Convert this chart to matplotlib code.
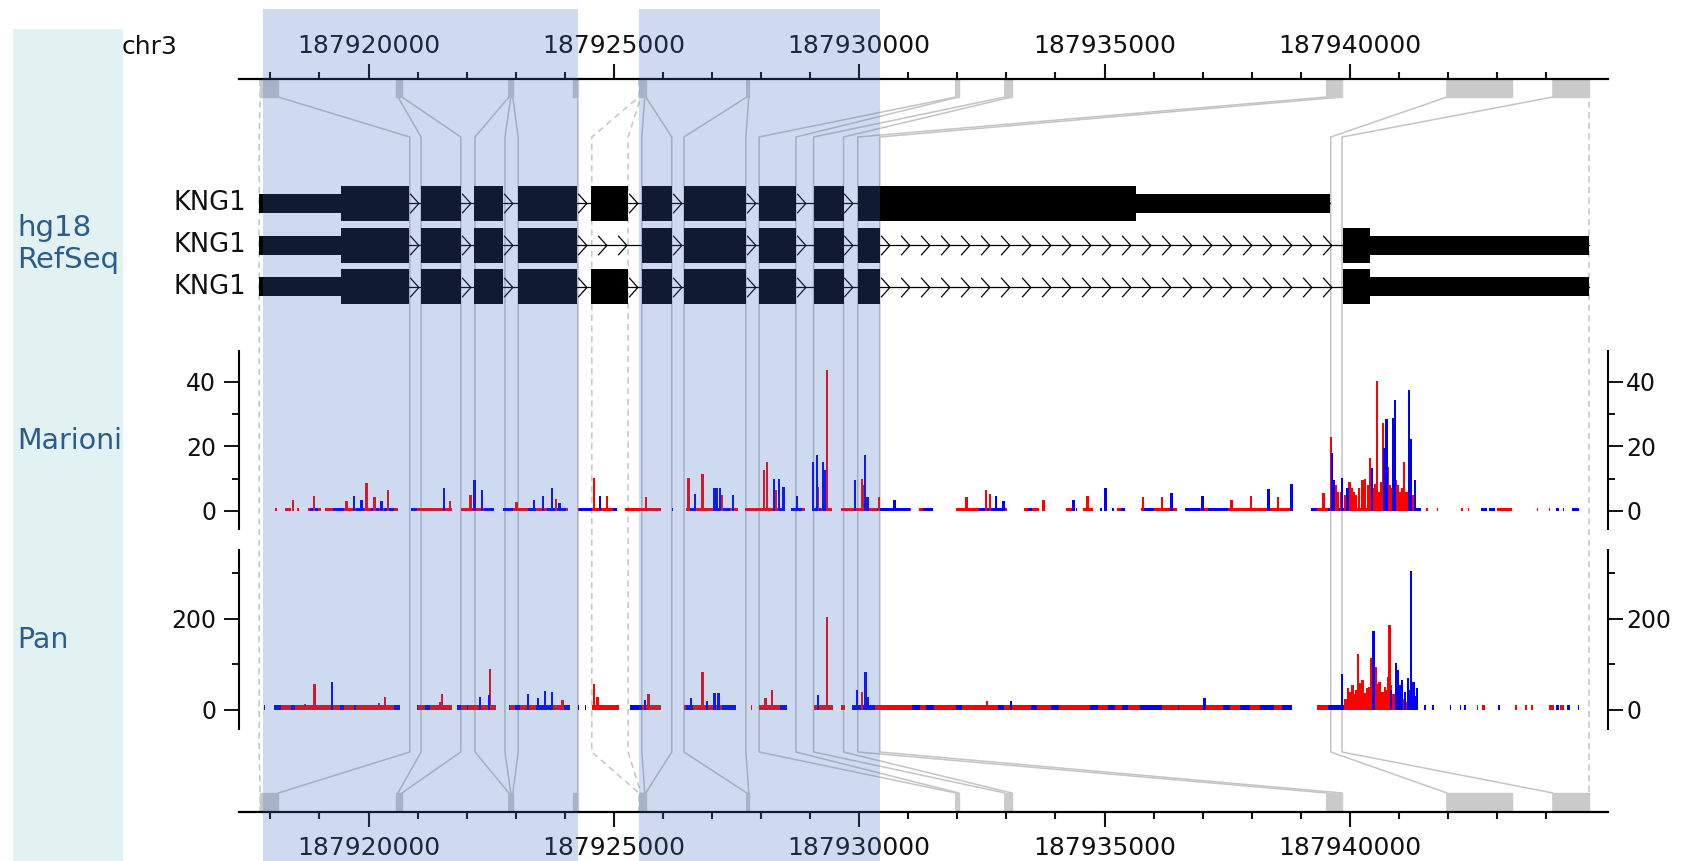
import matplotlib
matplotlib.use("Agg")
import matplotlib.pyplot as plt
import numpy as np
from matplotlib.patches import Rectangle
from matplotlib.path import Path
from matplotlib.ticker import FixedLocator, FuncFormatter

# chr3 window (hg18), bp
AXIS_START = 187917360
AXIS_END = 187945260
MAJOR_TICKS = [187920000, 187925000, 187930000, 187935000, 187940000]
MINOR_FIRST, MINOR_LAST, MINOR_STEP = 187918000, 187944000, 1000

# exons in genomic coordinates (grey blocks on the rulers)
GENOMIC_EXON_START = [187917790, 187920560, 187922860, 187924170, 187925510, 187927710,
                      187931970, 187932970, 187939530, 187941980, 187944140]
GENOMIC_EXON_END = [187918160, 187920680, 187922940, 187924270, 187925650, 187927750,
                    187932030, 187933110, 187939840, 187943300, 187944870]

# exon boundaries: genomic bp -> position in the expanded view (kb from window start)
LINK_GENOMIC = [187917790, 187918160, 187920600, 187920680, 187922860, 187922900,
                187922940, 187924270, 187925510, 187925550, 187925630, 187925650,
                187927710, 187927750, 187931970, 187932030, 187932970, 187933110,
                187939530, 187939840, 187941980, 187944140, 187944870]
LINK_VIEW = [0.41, 3.48, 3.71, 4.52, 4.81, 5.42, 5.69, 6.91, 7.19, 7.93, 8.21, 8.82,
             9.07, 10.33, 10.60, 11.35, 11.71, 12.32, 12.61, 13.06, 22.25, 22.48, 27.51]
LINK_DASHED = [True, False, False, False, False, False, False, False, True, True, False,
               False, False, False, False, False, False, False, False, False, False, False,
               True]

# KNG1 transcripts (view kb)
TRANSCRIPT_EXONS = [
    [(0.41, 3.46), (3.71, 4.52), (4.79, 5.38), (5.69, 6.89), (7.17, 7.93), (8.21, 8.82),
     (9.07, 10.33), (10.60, 11.35), (11.71, 12.32), (12.61, 22.23)],
    [(0.41, 3.46), (3.71, 4.52), (4.79, 5.38), (5.69, 6.89), (8.21, 8.82),
     (9.07, 10.33), (10.60, 11.35), (11.71, 12.32), (12.61, 13.06), (22.50, 27.51)],
    [(0.41, 3.46), (3.71, 4.52), (4.79, 5.38), (5.69, 6.89), (7.17, 7.93), (8.21, 8.82),
     (9.07, 10.33), (10.60, 11.35), (11.71, 12.32), (12.61, 13.06), (22.50, 27.51)],
]
TRANSCRIPT_CDS = [(2.08, 18.28), (2.08, 23.05), (2.08, 23.05)]
TRANSCRIPT_NAME = ["KNG1", "KNG1", "KNG1"]

# highlighted regions (view kb)
HIGHLIGHT_START = [0.49, 8.15]
HIGHLIGHT_END = [6.91, 13.06]

# Marioni track
MARIONI_RED_POS = [1.10, 1.53, 2.19, 2.60, 2.76, 3.04, 4.30, 4.72, 5.66, 6.46,
                   7.23, 7.50, 8.29, 9.16, 9.45, 9.84, 10.70, 10.76, 10.94, 11.80,
                   11.98, 12.70, 12.74, 13.04, 14.83, 15.22, 15.30, 16.40, 17.29, 18.42,
                   18.81, 20.23, 20.62, 21.17, 22.10, 22.25, 22.47, 22.68, 22.76, 22.90,
                   23.01, 23.05, 23.16, 23.19, 23.24, 23.32, 23.42, 23.49, 23.58, 23.65,
                   23.74, 23.86, 22.35, 22.40, 22.55, 22.63, 22.72, 22.82, 22.95, 23.11,
                   23.28, 23.37, 23.45, 23.53, 23.62, 23.70, 23.79, 23.92]
MARIONI_RED_VAL = [3.4, 4.6, 3.0, 8.6, 4.2, 6.5, 3.2, 5.0, 2.8, 3.6,
                   10.2, 4.6, 4.4, 10.2, 11.4, 5.0, 12.7, 15.0, 6.5, 7.5,
                   43.6, 10.0, 8.0, 4.4, 4.4, 6.5, 5.3, 3.4, 4.6, 4.4,
                   4.4, 3.5, 4.6, 4.4, 5.5, 23.0, 6.0, 7.0, 5.0, 9.6,
                   8.0, 16.4, 8.4, 40.3, 6.0, 27.3, 13.7, 7.0, 9.6, 6.0,
                   15.1, 5.0, 8.0, 6.0, 5.0, 9.0, 6.0, 7.0, 10.0, 7.0,
                   9.0, 10.0, 8.0, 6.0, 8.0, 7.0, 6.0, 5.0]
MARIONI_BLUE_POS = [2.34, 2.50, 2.90, 4.18, 4.80, 4.95, 6.01, 6.19, 6.38, 6.53,
                    7.36, 9.29, 9.69, 9.74, 9.80, 10.07, 10.90, 11.00, 11.10, 11.37,
                    11.70, 11.78, 11.90, 11.94, 12.55, 12.76, 12.81, 13.36, 15.43, 15.58,
                    17.01, 17.66, 19.00, 19.64, 20.98, 21.45, 22.27, 22.31, 22.48, 22.59,
                    23.09, 23.34, 23.39, 23.53, 23.56, 23.84, 23.89, 23.97]
MARIONI_BLUE_VAL = [4.6, 3.5, 3.0, 7.1, 9.6, 6.5, 3.4, 4.7, 7.0, 2.6,
                    4.6, 5.2, 7.0, 7.0, 7.0, 5.0, 10.0, 10.0, 7.5, 4.6,
                    15.0, 17.3, 15.0, 12.7, 9.6, 17.3, 4.4, 3.4, 4.7, 3.0,
                    3.4, 7.0, 5.4, 4.6, 6.8, 8.4, 18.0, 9.6, 10.2, 7.0,
                    13.3, 19.5, 28.5, 28.8, 34.2, 37.3, 22.3, 9.6]
# low coverage runs along the baseline
MARIONI_RED_RUN_START = [0.73, 0.93, 1.19, 1.41, 1.76, 3.50, 4.52, 5.38, 6.91, 7.87,
                         9.11, 10.31, 11.25, 11.71, 12.27, 13.55, 13.85, 14.61, 16.00, 16.85,
                         17.20, 17.90, 18.38, 19.28, 21.84, 24.20, 24.41, 24.91, 25.04, 25.63,
                         26.45, 26.69]
MARIONI_RED_RUN_END = [0.77, 1.06, 1.23, 1.67, 3.24, 4.34, 5.20, 6.70, 7.70, 8.60,
                       10.17, 11.13, 11.53, 12.09, 13.40, 13.70, 13.95, 15.65, 16.30, 17.00,
                       17.40, 18.00, 19.11, 21.46, 24.09, 24.23, 24.44, 24.94, 25.07, 25.94,
                       26.48, 26.72]
MARIONI_BLUE_RUN_START = [1.45, 1.92, 2.38, 2.70, 2.95, 3.50, 4.99, 5.38, 5.89, 6.28,
                          6.93, 7.62, 8.82, 9.15, 9.68, 11.02, 11.25, 11.71, 13.00, 13.94,
                          15.08, 16.08, 17.05, 17.55, 17.80, 17.98, 18.42, 19.28, 19.75, 21.84,
                          22.19, 23.86, 25.31, 25.47, 26.84, 26.98, 27.17]
MARIONI_BLUE_RUN_END = [1.61, 2.14, 2.55, 2.85, 3.16, 3.63, 5.20, 5.58, 6.05, 6.67,
                        7.19, 7.70, 8.84, 9.29, 10.01, 11.13, 11.47, 11.87, 13.67, 14.14,
                        15.57, 16.16, 17.08, 17.58, 17.83, 18.05, 18.65, 19.58, 20.15, 21.97,
                        22.60, 24.09, 25.43, 25.59, 26.90, 27.01, 27.30]

# Pan track
PAN_RED_POS = [1.35, 1.54, 2.40, 2.85, 2.97, 4.10, 4.14, 5.11, 6.59, 7.23,
               7.31, 8.35, 9.45, 10.73, 10.86, 11.98, 12.70, 15.24, 22.60, 22.65,
               22.73, 22.81, 22.86, 22.90, 22.99, 23.07, 23.12, 23.16, 23.21, 23.27,
               23.35, 23.42, 23.45, 23.50, 23.62, 23.70, 23.80, 23.90,
               22.55, 22.63, 22.69, 22.77, 22.84, 22.94, 23.03, 23.10, 23.14, 23.19,
               23.24, 23.30, 23.38, 23.47, 23.53, 23.56, 23.66, 23.75, 23.85]
PAN_RED_VAL = [14, 57, 12, 15, 29, 18, 35, 90, 22, 57,
               29, 35, 83, 26, 44, 205, 40, 20, 48, 30,
               35, 123, 40, 66, 48, 114, 30, 95, 57, 35,
               51, 73, 187, 25, 20, 22, 18, 15,
               25, 40, 55, 45, 60, 38, 50, 42, 70, 45,
               62, 40, 45, 55, 35, 30, 28, 25, 20]
PAN_BLUE_POS = [1.90, 4.91, 5.09, 5.89, 6.09, 6.24, 6.38, 8.27, 9.21, 9.54,
                9.69, 9.77, 11.80, 12.59, 12.77, 12.81, 15.73, 19.68, 22.48, 23.12,
                23.58, 23.62, 23.70, 23.82, 23.89, 23.94, 24.01,
                23.48, 23.60, 23.66, 23.76, 23.86, 23.98]
PAN_BLUE_VAL = [61, 29, 33, 35, 26, 42, 40, 22, 26, 20,
                38, 37, 33, 44, 83, 29, 20, 26, 79, 174,
                103, 88, 66, 70, 306, 62, 48,
                45, 60, 55, 40, 45, 30]
PAN_RED_RUN_START = [0.71, 3.63, 4.44, 5.50, 7.19, 7.97, 9.07, 10.43, 10.59, 11.71,
                     12.27, 12.49, 21.97, 25.23, 25.34, 26.01, 26.21, 26.34, 26.70, 26.92]
PAN_RED_RUN_END = [3.28, 4.34, 5.24, 6.75, 7.74, 8.60, 10.13, 10.45, 11.17, 12.10,
                   12.35, 21.46, 23.94, 25.26, 25.39, 26.04, 26.24, 26.37, 26.80, 27.00]
PAN_BLUE_RUN_START = [0.51, 0.71, 1.06, 1.87, 2.06, 2.34, 3.16, 3.63, 3.79, 4.44,
                      4.64, 5.50, 5.62, 6.05, 6.58, 6.91, 7.05, 7.21, 7.97, 9.11,
                      9.84, 11.02, 12.49, 13.71, 14.00, 14.61, 15.47, 16.14, 16.55, 17.34,
                      17.70, 18.00, 18.36, 19.13, 20.05, 20.40, 20.80, 21.25, 22.19, 22.99,
                      23.70, 24.16, 24.32, 24.67, 24.88, 24.97, 25.66, 26.84, 27.07, 27.28]
PAN_BLUE_RUN_END = [0.53, 0.86, 1.14, 1.92, 2.14, 2.43, 3.28, 3.65, 3.89, 4.52,
                    4.66, 5.52, 5.73, 6.36, 6.75, 6.93, 7.07, 7.23, 8.21, 9.25,
                    10.13, 11.17, 12.96, 13.88, 14.16, 14.73, 15.59, 16.26, 16.71, 17.50,
                    17.85, 18.11, 18.81, 19.16, 20.20, 20.60, 21.10, 21.46, 22.60, 23.10,
                    23.94, 24.19, 24.35, 24.71, 24.91, 25.01, 25.70, 26.90, 27.13, 27.31]

# ---------------------------------------------------------------- layout
W_PX, H_PX = 1707, 861
LEFT_PX, RIGHT_PX = 239, 1608
VIEW_SPAN = (AXIS_END - AXIS_START) / 1000.0
TEXT = "#111111"
LABEL_BLUE = "#2b5c8a"
LINK_GREY = "#c4c4c4"


def fx(px):
    return px / W_PX


def fy(px):
    return 1 - px / H_PX


def to_view(bp):
    return (np.asarray(bp, dtype=float) - AXIS_START) / 1000.0


fig = plt.figure(figsize=(W_PX / 100, H_PX / 100), dpi=100)
left, width = fx(LEFT_PX), fx(RIGHT_PX) - fx(LEFT_PX)

# left label column
fig.add_artist(Rectangle((fx(13), 0), fx(123) - fx(13), fy(29), transform=fig.transFigure,
                         facecolor="#e2f1f1", edgecolor="none", zorder=0))
fig.text(fx(17), fy(244), "hg18\nRefSeq", ha="left", va="center", fontsize=21,
         color=LABEL_BLUE, linespacing=1.22)
fig.text(fx(17), fy(441), "Marioni", ha="left", va="center", fontsize=20.5, color=LABEL_BLUE)
fig.text(fx(17), fy(640), "Pan", ha="left", va="center", fontsize=20.5, color=LABEL_BLUE)
fig.text(fx(122), fy(47), "chr3", ha="left", va="center", fontsize=18, color=TEXT)

# main canvas: connectors, genomic exon blocks, gene models (y in pixel rows)
ax = fig.add_axes([left, 0, width, 1])
ax.set_xlim(0, VIEW_SPAN)
ax.set_ylim(H_PX, 0)
ax.axis("off")

link_y = [80, 97, 137, 752, 793, 811]
for g, w, dashed in zip(to_view(LINK_GENOMIC), LINK_VIEW, LINK_DASHED):
    ax.plot([g, g, w, w, g, g], link_y, color=LINK_GREY, lw=1.1,
            ls=(0, (4, 3)) if dashed else "-", zorder=1)

blocks = [(s, e - s) for s, e in zip(to_view(GENOMIC_EXON_START), to_view(GENOMIC_EXON_END))]
for y0 in (80, 793):
    ax.broken_barh(blocks, (y0, 17), facecolors="#cacaca", edgecolors="#cacaca", lw=1, zorder=2)

chevron = Path([(-0.45, 1.0), (0.45, 0.0), (-0.45, -1.0)], [Path.MOVETO, Path.LINETO, Path.LINETO])
row_y = [203, 245, 286.5]
for exons, (c0, c1), name, y in zip(TRANSCRIPT_EXONS, TRANSCRIPT_CDS, TRANSCRIPT_NAME, row_y):
    ax.plot([exons[0][0], exons[-1][1]], [y, y], color="black", lw=0.9, zorder=3)
    thin, thick = [], []
    for s, e in exons:
        a, b = max(s, c0), min(e, c1)
        if a < b:
            thick.append((a, b - a))
        if s < min(e, c0):
            thin.append((s, min(e, c0) - s))
        if max(s, c1) < e:
            thin.append((max(s, c1), e - max(s, c1)))
    ax.broken_barh(thin, (y - 9.5, 19), facecolors="black", zorder=4)
    ax.broken_barh(thick, (y - 17.5, 35), facecolors="black", zorder=4)
    for (s0, e0), (s1, e1) in zip(exons[:-1], exons[1:]):
        xs = np.arange(e0 + 0.1, s1 - 0.05, 0.41)
        ax.plot(xs, np.full_like(xs, y), ls="none", marker=chevron, ms=14,
                mec="black", mfc="none", mew=0.9, zorder=3)
    ax.annotate(name, (exons[0][0], y), xytext=(-9, 0), textcoords="offset points",
                ha="right", va="center", fontsize=18.5, color=TEXT)


# genomic rulers
def ruler(y_px, top):
    r = fig.add_axes([left, fy(y_px), width, 1e-4])
    r.set_xlim(AXIS_START, AXIS_END)
    r.patch.set_alpha(0)
    r.set_yticks([])
    for s in r.spines.values():
        s.set_visible(False)
    side = "top" if top else "bottom"
    r.spines[side].set_visible(True)
    r.spines[side].set_linewidth(1.6)
    r.xaxis.set_major_locator(FixedLocator(MAJOR_TICKS))
    r.xaxis.set_minor_locator(FixedLocator(np.arange(MINOR_FIRST, MINOR_LAST + 1, MINOR_STEP)))
    r.xaxis.set_major_formatter(FuncFormatter(lambda v, p: f"{int(round(v))}"))
    r.tick_params(axis="x", which="both", top=top, bottom=not top, labeltop=top,
                  labelbottom=not top, direction="out", width=1.5, colors=TEXT)
    r.tick_params(axis="x", which="major", length=10.5, labelsize=18,
                  pad=4.3 if top else 7.2)
    r.tick_params(axis="x", which="minor", length=5)
    return r


ruler(79, True)
ruler(811.5, False)


# signal tracks
def track(top_px, bottom_px, ylim, major, minor):
    t = fig.add_axes([left, fy(bottom_px), width, (bottom_px - top_px) / H_PX])
    t.set_xlim(0, VIEW_SPAN)
    t.set_ylim(*ylim)
    t.patch.set_alpha(0)
    for s in ("top", "bottom", "right"):
        t.spines[s].set_visible(False)
    t.spines["left"].set_linewidth(1.5)
    t.set_xticks([])
    sec = t.secondary_yaxis("right")
    sec.spines["right"].set_linewidth(1.5)
    for a, pad in ((t, 5.8), (sec, 2.5)):
        a.yaxis.set_major_locator(FixedLocator(major))
        a.yaxis.set_minor_locator(FixedLocator(minor))
        a.tick_params(axis="y", which="major", length=10.5, width=1.4, labelsize=17,
                      pad=pad, colors=TEXT)
        a.tick_params(axis="y", which="minor", length=5, width=1.4, colors=TEXT)
    return t


def draw_signal(t, red_runs, blue_runs, run_h, red_bars, blue_bars):
    t.broken_barh([(s, e - s) for s, e in zip(*red_runs)], (0, run_h), facecolors="#ff0000", zorder=2)
    t.broken_barh([(s, e - s) for s, e in zip(*blue_runs)], (0, run_h), facecolors="#0000ff", zorder=2)
    t.bar(red_bars[0], red_bars[1], width=0.05, color="#ff0000", lw=0, zorder=3)
    t.bar(blue_bars[0], blue_bars[1], width=0.05, color="#0000ff", lw=0, zorder=3)


ax_m = track(351, 529, (-5.6, 49.5), [0, 20, 40], [10, 30])
draw_signal(ax_m, (MARIONI_RED_RUN_START, MARIONI_RED_RUN_END),
            (MARIONI_BLUE_RUN_START, MARIONI_BLUE_RUN_END), 1.0,
            (MARIONI_RED_POS, MARIONI_RED_VAL), (MARIONI_BLUE_POS, MARIONI_BLUE_VAL))

ax_p = track(550, 729, (-41.8, 351.6), [0, 200], [100, 300])
draw_signal(ax_p, (PAN_RED_RUN_START, PAN_RED_RUN_END),
            (PAN_BLUE_RUN_START, PAN_BLUE_RUN_END), 11,
            (PAN_RED_POS, PAN_RED_VAL), (PAN_BLUE_POS, PAN_BLUE_VAL))

# highlighted regions on top of everything
ov = fig.add_axes([left, 0, width, 1], zorder=10)
ov.set_xlim(0, VIEW_SPAN)
ov.set_ylim(0, 1)
ov.axis("off")
for s, e in zip(HIGHLIGHT_START, HIGHLIGHT_END):
    ov.axvspan(s, e, ymin=0, ymax=fy(9), facecolor="#3d6fc0", alpha=0.25, lw=0)

fig.savefig("out.png", dpi=100)
